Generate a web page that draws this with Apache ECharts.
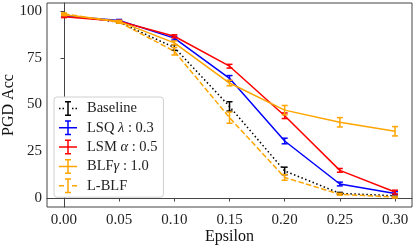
<!DOCTYPE html>
<html>
<head>
<meta charset="utf-8">
<script src="https://cdn.jsdelivr.net/npm/echarts@6/dist/echarts.min.js"></script>
<style>html,body{margin:0;padding:0;background:#fff}#c{width:415px;height:246px}</style>
</head>
<body>
<div id="c"></div>
<script>
const epsilons = [0, 0.05, 0.10, 0.15, 0.20, 0.25, 0.30];
const xTicks = [0, 0.05, 0.10, 0.15, 0.20, 0.25, 0.30];
const yTicks = [0, 25, 50, 75, 100];
const seriesNames = ['Baseline', 'LSQ λ : 0.3', 'LSM α : 0.5', 'BLFγ : 1.0', 'L-BLF'];
const baseline = [98, 94, 80.5, 49, 14.5, 2.5, 1.2];
const baselineErr = [0.5, 0.5, 1.5, 2.5, 2, 0.5, 0.5];
const lsq = [97.5, 95, 85.5, 64, 30.5, 7.5, 2.4];
const lsqErr = [0.5, 0.5, 1, 1.5, 1.5, 1, 1];
const lsm = [97, 94.5, 86.5, 70.5, 44, 14.8, 3.2];
const lsmErr = [0.5, 0.5, 0.8, 1, 1.5, 1, 1];
const blf = [98, 94.5, 83, 61.5, 47, 40.5, 35.7];
const blfErr = [0.5, 0.5, 1, 1.5, 2.5, 2.5, 2.5];
const lblf = [98.5, 94, 78.5, 43, 11, 2, 0.5];
const lblfErr = [0.5, 0.5, 2, 3, 1.5, 0.5, 0.5];

const colors = ['#000000', '#0000ff', '#ff0000', '#ffa500', '#ffa500'];
const lineTypes = [[1.5, 2.5], 'solid', 'solid', 'solid', [5.5, 2.4]];
const values = [baseline, lsq, lsm, blf, lblf];
const errs = [baselineErr, lsqErr, lsmErr, blfErr, lblfErr];

// legend icons (18x15 box)
const bar = 'M8.25 0 H9.75 V15 H8.25 Z M6 0 H12 V1.5 H6 Z M6 13.5 H12 V15 H6 Z';
const solidH = 'M0 6.75 H18 V8.25 H0 Z';
const dottedH = 'M0 6.75 H1.5 V8.25 H0 Z M3.5 6.75 H5 V8.25 H3.5 Z M13 6.75 H14.5 V8.25 H13 Z M16.5 6.75 H18 V8.25 H16.5 Z';
const dashedH = 'M0 6.75 H5 V8.25 H0 Z M13 6.75 H18 V8.25 H13 Z';
const icons = [
  'path://' + bar + ' ' + dottedH,
  'path://' + bar + ' ' + solidH,
  'path://' + bar + ' ' + solidH,
  'path://' + bar + ' ' + solidH,
  'path://' + bar + ' ' + dashedH
];

const serif = 'Liberation Serif';
const series = [];
values.forEach((vals, i) => {
  series.push({
    name: seriesNames[i],
    type: 'line',
    data: epsilons.map((x, j) => [x, vals[j]]),
    symbol: 'none',
    color: colors[i],
    lineStyle: { color: colors[i], width: 1.5, type: lineTypes[i] },
    z: 2 + i,
    animation: false
  });
  series.push({
    name: seriesNames[i],
    type: 'custom',
    data: epsilons.map((x, j) => [x, vals[j] - errs[i][j], vals[j] + errs[i][j]]),
    renderItem: function (params, api) {
      const lo = api.coord([api.value(0), api.value(1)]);
      const hi = api.coord([api.value(0), api.value(2)]);
      const cw = 3;
      const st = { stroke: colors[i], lineWidth: 1.5, fill: null };
      return {
        type: 'group',
        children: [
          { type: 'line', shape: { x1: lo[0], y1: lo[1], x2: hi[0], y2: hi[1] }, style: st },
          { type: 'line', shape: { x1: lo[0] - cw, y1: lo[1], x2: lo[0] + cw, y2: lo[1] }, style: st },
          { type: 'line', shape: { x1: hi[0] - cw, y1: hi[1], x2: hi[0] + cw, y2: hi[1] }, style: st }
        ]
      };
    },
    z: 2 + i,
    animation: false
  });
});

const legendRich = {
  n: { fontFamily: serif, fontSize: 14.5, color: '#222', lineHeight: 15 },
  i: { fontFamily: serif, fontSize: 14.5, fontStyle: 'italic', color: '#222', lineHeight: 15 }
};
function legendFmt(name) {
  if (name === seriesNames[1]) return '{n|LSQ }{i|λ}{n| : 0.3}';
  if (name === seriesNames[2]) return '{n|LSM }{i|α}{n| : 0.5}';
  if (name === seriesNames[3]) return '{n|BLF}{i|γ}{n| : 1.0}';
  return '{n|' + name + '}';
}

const chart = echarts.init(document.getElementById('c'), null, { renderer: 'canvas' });
chart.setOption({
  animation: false,
  backgroundColor: '#fff',
  grid: { left: 47, top: 3, right: 3, bottom: 39, containLabel: false, outerBoundsMode: 'none', show: true, borderColor: '#444', borderWidth: 1 },
  legend: {
    orient: 'vertical',
    left: 54, top: 97,
    data: seriesNames.map((n, i) => ({ name: n, icon: icons[i], itemStyle: { color: colors[i] } })),
    itemWidth: 18, itemHeight: 15, itemGap: 4.3,
    padding: [4, 6, 4, 5],
    backgroundColor: '#fff',
    borderColor: '#d0d0d0', borderWidth: 1, borderRadius: 3,
    formatter: legendFmt,
    textStyle: { rich: legendRich, fontFamily: serif, fontSize: 14.5, padding: [0, 0, 0, 5] },
    selectedMode: false
  },
  xAxis: {
    type: 'value', min: -0.0154, max: 0.3154,
    name: 'Epsilon', nameLocation: 'middle', nameGap: 22, nameMoveOverlap: false,
    nameTextStyle: { fontFamily: serif, fontSize: 16, color: '#111' },
    axisLine: { show: true, lineStyle: { color: '#444', width: 1 } },
    axisTick: { show: true, length: 3.5, customValues: xTicks, lineStyle: { color: '#444' } },
    axisLabel: { customValues: xTicks, formatter: v => v.toFixed(2), fontFamily: serif, fontSize: 15, color: '#222', margin: 6 },
    splitLine: { show: false }
  },
  yAxis: {
    type: 'value', min: -4.8, max: 104.3,
    name: 'PGD Acc', nameLocation: 'middle', nameGap: 30, nameRotate: 90, nameMoveOverlap: false,
    nameTextStyle: { fontFamily: serif, fontSize: 16, color: '#111' },
    axisLine: { show: true, lineStyle: { color: '#444', width: 1 } },
    axisTick: { show: true, length: 3.5, customValues: yTicks, lineStyle: { color: '#444' } },
    axisLabel: { customValues: yTicks, fontFamily: serif, fontSize: 15, color: '#222', margin: 5 },
    splitLine: { show: false }
  },
  series: series
});
</script>
</body>
</html>
